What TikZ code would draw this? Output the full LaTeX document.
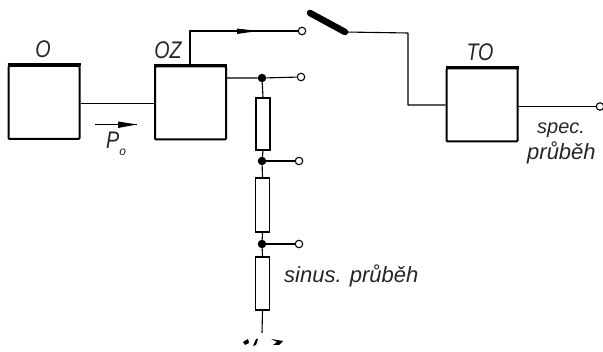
\documentclass[tikz,border=0pt]{standalone}
\usepackage{graphicx}
\usepackage{fontspec}
\setmainfont{Liberation Sans}
\newcommand{\narrowtxt}[1]{\scalebox{.82}[1]{#1}}
\begin{document}
\begin{tikzpicture}[x=1pt,y=-1pt,
  wire/.style={line width=1.1pt,line join=round},
  blockbox/.style={draw,line width=2pt,rounded corners=1pt,minimum width=71pt,minimum height=73pt,inner sep=0pt},
  resistor/.style={draw,line width=1.3pt,fill=white,minimum width=14pt,minimum height=52pt,inner sep=0pt},
  terminal/.style={circle,draw,line width=1.1pt,fill=white,minimum size=7.5pt,inner sep=0pt},
  junction/.style={circle,fill=black,minimum size=8.5pt,inner sep=0pt},
  lbl/.style={font=\itshape,inner sep=0pt,text=black!85},
  biglbl/.style={lbl,font=\itshape\fontsize{24}{24}\selectfont}]
\useasboundingbox (0,0) rectangle (603,352);
\node[blockbox] (O) at (44,102.5) {};
\node[blockbox] (OZ) at (190.5,103) {};
\node[blockbox] (TO) at (482,105) {};
\draw[line width=3pt] (O.north west) -- (O.north east);
\draw[line width=3pt] (OZ.north west) -- (OZ.north east);
\draw[line width=3pt] (TO.north west) -- (TO.north east);
\node[biglbl] (lO) at (43,49) {\narrowtxt{O}};
\node[biglbl] (lOZ) at (168,50) {\narrowtxt{OZ}};
\node[biglbl] (lTO) at (480,52) {\narrowtxt{TO}};
% terminals and junctions
\node[terminal] (t0) at (302,31) {};
\node[terminal] (t1) at (301,77) {};
\node[terminal] (t2) at (299,161) {};
\node[terminal] (t3) at (299,244) {};
\node[terminal] (t4) at (600,106.5) {};
\node[junction] (j1) at (262,78) {};
\node[junction] (j2) at (262,161) {};
\node[junction] (j3) at (262,244) {};
\node[resistor,minimum height=52pt] (r1) at (263,124) {};
\node[resistor,minimum height=54pt] (r2) at (262.5,205) {};
\node[resistor,minimum height=53pt] (r3) at (262.5,283.5) {};
\coordinate (gnd) at (262,333);
\coordinate (sw) at (345,32);
\coordinate (swend) at (310,13);
\coordinate (oztop) at (190,66);
% wires
\draw[wire] (O.east |- 0,103.5) -- (OZ.west |- 0,103.5);
\draw[wire] (oztop) -- (190,31) -- (t0);
\draw[wire] (OZ.east |- j1) -- (j1) -- (t1);
\draw[wire] (j1) -- (r1.north);
\draw[wire] (r1.south) -- (j2);
\draw[wire] (j2) -- (r2.north);
\draw[wire] (j2) -- (t2);
\draw[wire] (r2.south) -- (j3);
\draw[wire] (j3) -- (t3);
\draw[wire] (j3) -- (r3.north);
\draw[wire] (r3.south) -- (gnd);
\draw[wire] (sw) -- (408,33) -- (408,105) -- (TO.west);
\draw[wire] (TO.east |- t4) -- (t4);
% switch arm
\draw[line width=6.5pt,line cap=round] (swend) -- (sw);
% arrows
\fill (237,28.5) -- (258,31) -- (237,34) -- cycle;
\coordinate (pa) at (95,124.5);
\coordinate (pb) at (137,124.5);
\draw[line width=1pt] (pa) -- (pb);
\fill (118,121.5) -- (137,124.5) -- (118,128) -- cycle;
% ground remnants
\fill (243,342) -- (248,339) -- (249,343) -- (245,345) -- cycle;
\fill (256,339) -- (258,339) -- (256,345) -- (253,346) -- cycle;
\fill (271,339) -- (283,341) -- (279,345) -- (273,345) -- (277,342) -- cycle;
% labels
\node[biglbl,anchor=base west] (lP) at (106,149) {\narrowtxt{P}\raisebox{-7pt}{\fontsize{12}{12}\selectfont o}};
\node[lbl,font=\itshape\fontsize{22}{22}\selectfont,anchor=base west] (ls) at (284,283) {sinus. průběh};
\node[lbl,font=\itshape\fontsize{20}{20}\selectfont,anchor=base west] (lsp) at (537,134) {spec.};
\node[lbl,font=\itshape\fontsize{22}{22}\selectfont,anchor=base west] (lpr) at (527,160) {průběh};
\end{tikzpicture}
\end{document}
